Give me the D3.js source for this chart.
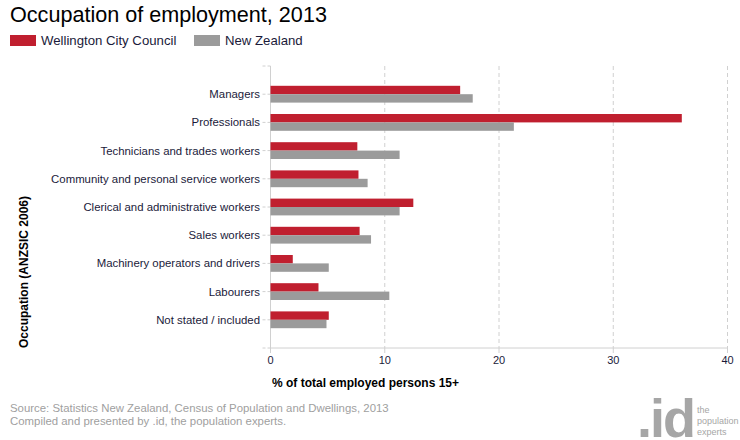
<!DOCTYPE html>
<html>
<head>
<meta charset="utf-8">
<script src="https://cdn.jsdelivr.net/npm/d3@7"></script>
<style>
  body { margin: 0; background: #fff; }
  text { font-family: "Liberation Sans", Arial, sans-serif; }
</style>
</head>
<body>
<script>
const categories = [
  "Managers",
  "Professionals",
  "Technicians and trades workers",
  "Community and personal service workers",
  "Clerical and administrative workers",
  "Sales workers",
  "Machinery operators and drivers",
  "Labourers",
  "Not stated / included"
];
const wellington = [16.6, 36.0, 7.6, 7.7, 12.5, 7.8, 1.95, 4.2, 5.1];
const newZealand = [17.7, 21.3, 11.3, 8.5, 11.3, 8.8, 5.1, 10.4, 4.9];
const seriesNames = ["Wellington City Council", "New Zealand"];
const seriesColors = ["#c01f2f", "#9b9b9b"];
const xTicks = [0, 10, 20, 30, 40];

const width = 740, height = 440;
const svg = d3.select("body").append("svg")
  .attr("width", width)
  .attr("height", height);

const plot = { left: 270.5, right: 727.5, top: 66, bottom: 348 };

const x = d3.scaleLinear().domain([0, 40]).range([plot.left, plot.right]);
const y = d3.scalePoint().domain(categories).range([plot.top, plot.bottom]).padding(1);
const barH = 8.4;

// title
svg.append("text")
  .attr("x", 10).attr("y", 22)
  .attr("font-size", 21.6)
  .attr("fill", "#000")
  .text("Occupation of employment, 2013");

// legend
const legendX = [10, 194];
seriesNames.forEach((name, i) => {
  svg.append("rect")
    .attr("x", legendX[i]).attr("y", 35)
    .attr("width", 26).attr("height", 11)
    .attr("fill", seriesColors[i]);
  svg.append("text")
    .attr("x", legendX[i] + 31).attr("y", 45)
    .attr("font-size", 13.2)
    .attr("fill", "#1a1a3a")
    .text(name);
});

// grid lines
svg.append("g").selectAll("line")
  .data(xTicks.slice(1))
  .join("line")
  .attr("x1", d => x(d)).attr("x2", d => x(d))
  .attr("y1", plot.top).attr("y2", plot.bottom)
  .attr("stroke", "#d0d0d0")
  .attr("stroke-dasharray", "4,3");

// y axis line and tick marks
const yTickPos = [plot.top].concat(categories.map(c => y(c)), [plot.bottom]);
svg.append("g").selectAll("line")
  .data(yTickPos)
  .join("line")
  .attr("x1", plot.left - 8).attr("x2", plot.left)
  .attr("y1", d => d).attr("y2", d => d)
  .attr("stroke", "#d0d0d0")
  .attr("stroke-dasharray", "3,2");

svg.append("line")
  .attr("x1", plot.left).attr("x2", plot.left)
  .attr("y1", plot.top).attr("y2", plot.bottom)
  .attr("stroke", "#d0d0d0");
svg.append("line")
  .attr("x1", plot.left).attr("x2", plot.right)
  .attr("y1", plot.bottom).attr("y2", plot.bottom)
  .attr("stroke", "#d0d0d0");

// x tick marks below axis
svg.append("g").selectAll("line")
  .data(xTicks)
  .join("line")
  .attr("x1", d => x(d)).attr("x2", d => x(d))
  .attr("y1", plot.bottom).attr("y2", plot.bottom + 5)
  .attr("stroke", "#d0d0d0");

// bars
const bars = svg.append("g");
[wellington, newZealand].forEach((vals, s) => {
  bars.selectAll(".s" + s)
    .data(vals)
    .join("rect")
    .attr("class", "s" + s)
    .attr("x", x(0))
    .attr("y", (d, i) => y(categories[i]) - barH + s * barH)
    .attr("width", d => x(d) - x(0))
    .attr("height", barH)
    .attr("fill", seriesColors[s]);
});

// category labels
svg.append("g").selectAll("text")
  .data(categories)
  .join("text")
  .attr("x", 260)
  .attr("y", d => y(d) + 4)
  .attr("text-anchor", "end")
  .attr("font-size", 11.4)
  .attr("fill", "#1a1a3a")
  .text(d => d);

// x tick labels
svg.append("g").selectAll("text")
  .data(xTicks)
  .join("text")
  .attr("x", d => x(d))
  .attr("y", 364)
  .attr("text-anchor", "middle")
  .attr("font-size", 11)
  .attr("fill", "#1a1a3a")
  .text(d => d);

// axis titles
svg.append("text")
  .attr("x", 272).attr("y", 387)
  .attr("font-size", 12)
  .attr("font-weight", "bold")
  .attr("fill", "#000")
  .text("% of total employed persons 15+");

svg.append("text")
  .attr("transform", "translate(28,272) rotate(-90)")
  .attr("text-anchor", "middle")
  .attr("font-size", 12)
  .attr("font-weight", "bold")
  .attr("fill", "#000")
  .text("Occupation (ANZSIC 2006)");

// source
svg.append("text")
  .attr("x", 10).attr("y", 412)
  .attr("font-size", 11.4)
  .attr("fill", "#a0a0a0")
  .text("Source: Statistics New Zealand, Census of Population and Dwellings, 2013");
svg.append("text")
  .attr("x", 10).attr("y", 425)
  .attr("font-size", 11.4)
  .attr("fill", "#a0a0a0")
  .text("Compiled and presented by .id, the population experts.");

// logo
svg.append("text")
  .attr("x", 694).attr("y", 437)
  .attr("text-anchor", "end")
  .attr("font-size", 54)
  .attr("font-weight", "bold")
  .attr("letter-spacing", -2)
  .attr("fill", "#a6a6a6")
  .text(".id");
["the", "population", "experts"].forEach((t, i) => {
  svg.append("text")
    .attr("x", 697).attr("y", 413 + i * 11)
    .attr("font-size", 9)
    .attr("fill", "#a6a6a6")
    .text(t);
});
</script>
</body>
</html>
